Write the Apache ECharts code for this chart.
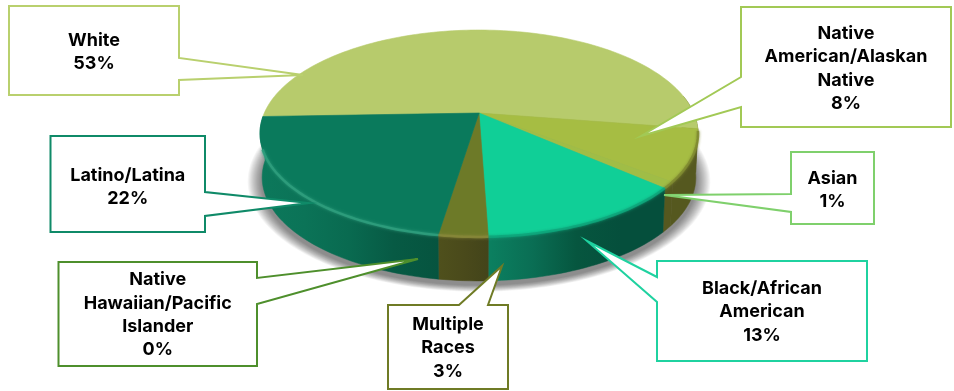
<!DOCTYPE html>
<html>
<head>
<meta charset="utf-8">
<style>html,body{margin:0;padding:0;background:#fff}#chart{width:954px;height:391px}</style>
<script src="https://cdn.jsdelivr.net/npm/echarts@6/dist/echarts.min.js"></script>
</head>
<body>
<div id="chart"></div>
<script>
// Enrollment share by group, in percent, clockwise from the left edge of the disc.
const categories = ['White', 'Native\nAmerican/Alaskan\nNative', 'Asian', 'Black/African\nAmerican', 'Multiple\nRaces', 'Native\nHawaiian/Pacific\nIslander', 'Latino/Latina'];
const shares = [53, 8, 1, 13, 3, 0, 22];

// Slice colours
const topColors = ['#b7cb6c', '#a6bd43', '#a0bd46', '#10cf97', '#6d7a28', '#4e8f2c', '#0a7a5c'];
const rimColors = [null, '#7f8a30', '#7f8a30', '#0ea57a', '#87873a', null, '#2f9f7e'];
const wallStops = [
  ['#5a5c22', '#5a5c22'],
  ['#55581f', '#55581f'],
  ['#55581f', '#55581f'],
  ['#0b8060', '#0a6e54', '#06563f', '#054f3c', '#054f3c'],
  ['#4f501c', '#4a4a1b', '#43441a'],
  ['#07604a', '#07604a'],
  ['#0c785b', '#0b7357', '#096a50', '#075a44', '#06543f']
];
const borderColors = ['#b9d06e', '#a2c955', '#7fd06c', '#1fd2a0', '#6f7b25', '#4e8f2c', '#0f8a68'];

// Callout layout: box [left, top, right, bottom], wedge root on one box side, wedge tip, text nudge
const calloutLayout = [
  { box: [9, 6, 179, 95], side: 'right', root: [58, 80], tip: [303, 75], dy: 1.5 },
  { box: [741, 7, 951, 127], side: 'left', root: [77, 107], tip: [641, 136], dy: 1.5 },
  { box: [791, 152, 874, 224], side: 'left', root: [194, 212], tip: [664, 195], dy: 2 },
  { box: [657, 261, 867, 361], side: 'left', root: [277, 302], tip: [587, 241], dy: 1 },
  { box: [388, 305, 508, 389], side: 'top', root: [459, 488], tip: [502, 266], dy: 1 },
  { box: [58.5, 262, 257, 366], side: 'right', root: [278, 304], tip: [418, 259], dy: 1 },
  { box: [50.5, 136, 205, 232], side: 'right', root: [192, 216], tip: [309, 203], dy: 3 }
];

// Perspective disc: apex of the slices and the projective terms for the receding plane
const CX = 479, APEX_Y = 113, RADIUS_X = 214.7, RADIUS_Y = 99.4, TILT = -0.198;
const WALL_DROP = 44, WALL_SCALE = 0.99, START_ANGLE = 268;
const WALL_FROM = 80, WALL_TO = 268;
const RIM_FROM = 100, RIM_TO = 250;
const SHADOW_STEPS = 14;

function rimPoint(deg, r) {
  const t = deg * Math.PI / 180;
  const u = r * Math.sin(t), v = -r * Math.cos(t), d = 1 + TILT * v;
  return [CX + RADIUS_X * u / d, APEX_Y + RADIUS_Y * v / d];
}
function wallPoint(deg) {
  const p = rimPoint(deg, 1);
  return [CX + (p[0] - CX) * WALL_SCALE, p[1] + WALL_DROP];
}
function sweep(a0, a1) {
  const n = Math.max(2, Math.ceil((a1 - a0) / 1.5)), out = [];
  for (let i = 0; i <= n; i++) out.push(a0 + (a1 - a0) * i / n);
  return out;
}
function angles(api) {
  const a0 = START_ANGLE + api.value(0) * 3.6;
  return [a0, a0 + api.value(1) * 3.6];
}
// Parts of a slice inside an angular window; a slice may cross the top of the disc
function spansWithin(a0, a1, from, to) {
  const start = a0 % 360, end = start + (a1 - a0), spans = [];
  [[start, end], [start - 360, end - 360]].forEach(function (s) {
    const lo = Math.max(s[0], from), hi = Math.min(s[1], to);
    if (lo < hi) spans.push([lo, hi]);
  });
  return spans;
}

let running = 0;
const sliceData = shares.map(function (s) { const row = [running, s]; running += s; return row; });
const calloutData = categories.map(function (c, i) { return [i, shares[i]]; });

// Soft contact shadow built from stacked translucent outlines of the disc base
function renderShadow(params, api) {
  const grow = api.value(0);
  const k = 1 + grow / 210;
  const base = sweep(0, 360).map(wallPoint);
  const pts = base.map(function (p) { return [CX + (p[0] - CX) * k, 180 + (p[1] - 180) * k + 4]; });
  return { type: 'polygon', shape: { points: pts }, style: { fill: 'rgba(0,0,0,0.038)' } };
}
function renderWall(params, api) {
  const colors = wallStops[params.dataIndex];
  const stops = colors.map(function (c, i) { return { offset: i / (colors.length - 1), color: c }; });
  const a = angles(api);
  const children = spansWithin(a[0], a[1], WALL_FROM, WALL_TO).map(function (span) {
    const list = sweep(span[0], span[1]);
    const pts = list.map(function (d) { return rimPoint(d, 1); }).concat(list.slice().reverse().map(wallPoint));
    const xs = pts.map(function (p) { return p[0]; });
    const left = Math.min.apply(null, xs), right = Math.max.apply(null, xs);
    const fill = new echarts.graphic.LinearGradient(left, 0, right + 0.01, 0, stops, true);
    return { type: 'polygon', shape: { points: pts }, style: { fill: fill, stroke: fill, lineWidth: 0.5 } };
  });
  return { type: 'group', children: children };
}
function renderTop(params, api) {
  const a = angles(api);
  if (a[1] <= a[0]) return { type: 'group', children: [] };
  const pts = [[CX, APEX_Y]].concat(sweep(a[0], a[1]).map(function (d) { return rimPoint(d, 1); }));
  const c = topColors[params.dataIndex];
  return { type: 'polygon', shape: { points: pts }, style: { fill: c, stroke: c, lineWidth: 0.6 } };
}
function renderRim(params, api) {
  const c = rimColors[params.dataIndex], a = angles(api);
  if (!c) return { type: 'group', children: [] };
  const children = spansWithin(a[0], a[1], RIM_FROM, RIM_TO).map(function (span) {
    const pts = sweep(span[0], span[1]).map(function (d) { return rimPoint(d, 1); });
    return {
      type: 'polyline', shape: { points: pts },
      style: { fill: null, stroke: c, lineWidth: 2.5, opacity: 0.85, shadowBlur: 3, shadowColor: c }
    };
  });
  return { type: 'group', children: children };
}
function renderCallout(params, api) {
  const l = calloutLayout[api.value(0)];
  const [x0, y0, x1, y1] = l.box, r = l.root, pts = [[x0, y0]];
  if (l.side === 'top') pts.push([r[0], y0], l.tip, [r[1], y0]);
  pts.push([x1, y0]);
  if (l.side === 'right') pts.push([x1, r[0]], l.tip, [x1, r[1]]);
  pts.push([x1, y1], [x0, y1]);
  if (l.side === 'left') pts.push([x0, r[1]], l.tip, [x0, r[0]]);
  return {
    type: 'group',
    children: [
      { type: 'polygon', shape: { points: pts }, style: { fill: '#fff', stroke: borderColors[params.dataIndex], lineWidth: 2, lineJoin: 'miter' } },
      {
        type: 'text',
        style: {
          x: (x0 + x1) / 2, y: (y0 + y1) / 2 + l.dy,
          text: categories[params.dataIndex] + '\n' + api.value(1) + '%',
          align: 'center', verticalAlign: 'middle', lineHeight: 23.3,
          fontFamily: 'Inter', fontWeight: 'bold', fontSize: 18, fill: '#000'
        }
      }
    ]
  };
}

function layer(name, data, renderItem, z) {
  return { type: 'custom', name: name, coordinateSystem: 'none', data: data, renderItem: renderItem, z: z, clip: false, silent: true, animation: false };
}

const shadowSteps = [];
for (let i = SHADOW_STEPS; i >= 1; i--) shadowSteps.push([i]);

const chart = echarts.init(document.getElementById('chart'), null, { renderer: 'canvas' });
chart.setOption({
  backgroundColor: '#fff',
  animation: false,
  series: [
    layer('shadow', shadowSteps, renderShadow, 1),
    layer('walls', sliceData, renderWall, 2),
    layer('faces', sliceData, renderTop, 3),
    layer('rim', sliceData, renderRim, 4),
    layer('callouts', calloutData, renderCallout, 5)
  ]
});
</script>
</body>
</html>
